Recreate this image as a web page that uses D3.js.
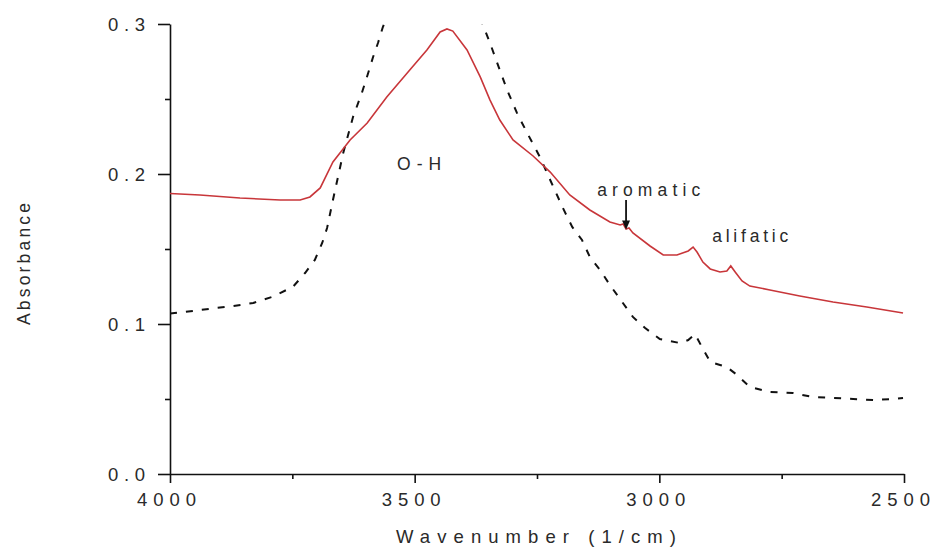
<!DOCTYPE html>
<html><head><meta charset="utf-8">
<script src="https://cdn.jsdelivr.net/npm/d3@7"></script>
<style>
html,body{margin:0;padding:0;background:#fff;}
svg text{font-family:"Liberation Sans",Arial,sans-serif;fill:#2a2a2a;}
</style></head>
<body><svg id="c" width="935" height="551"></svg>
<script>
// Red (solid) spectrum: [wavenumber, absorbance]
const redWn  = [4000,3939,3857,3775,3734,3714,3693,3667,3632,3597,3557,3510,3475,3448,3434,3422,3393,3366,3346,3326,3299,3258,3223,3183,3142,3101,3080,3074,3068,3062,3054,3019,2992,2964,2941,2931,2923,2911,2896,2876,2862,2854,2845,2831,2815,2774,2713,2645,2576,2502];
const redAbs = [0.187,0.186,0.184,0.1827,0.1827,0.1847,0.1907,0.208,0.2227,0.234,0.2513,0.2693,0.2827,0.2947,0.2967,0.2953,0.2827,0.2647,0.2493,0.236,0.2227,0.212,0.2013,0.186,0.176,0.168,0.166,0.1667,0.1633,0.164,0.1607,0.152,0.146,0.146,0.1487,0.1513,0.148,0.1413,0.1367,0.1347,0.1353,0.1387,0.1347,0.1287,0.1253,0.1227,0.1187,0.1147,0.1113,0.1073];
// Black (dashed) spectrum
const blkWn  = [4000,3953,3904,3871,3830,3792,3749,3724,3704,3689,3679,3667,3646,3626,3608,3595,3585,3575,3565,3540,3460,3380,3362,3346,3326,3311,3291,3270,3244,3223,3197,3178,3158,3142,3121,3101,3076,3054,3029,2999,2958,2941,2927,2913,2896,2876,2862,2841,2815,2774,2727,2686,2645,2604,2563,2522,2502];
const blkAbs = [0.107,0.1087,0.1107,0.112,0.114,0.118,0.1247,0.134,0.1427,0.154,0.164,0.1827,0.214,0.238,0.254,0.2673,0.278,0.2873,0.298,0.318,0.34,0.315,0.3007,0.2873,0.2693,0.256,0.2407,0.2273,0.2113,0.196,0.1773,0.1647,0.156,0.1447,0.136,0.126,0.1147,0.1047,0.0973,0.09,0.0873,0.0893,0.0933,0.0847,0.0747,0.0727,0.0713,0.066,0.058,0.0547,0.054,0.0513,0.0507,0.05,0.0493,0.05,0.0507];
const xTicks = [4000,3500,3000,2500];
const xMinor = [3750,3250,2750];
const yTicks = [0.0,0.1,0.2,0.3];
const yMinor = [0.05,0.15,0.25];
const annotations = [
  {text:"O - H", wn:3536, abs:0.2027, len:44},
  {text:"aromatic", wn:3127, abs:0.1853, len:103},
  {text:"alifatic", wn:2892, abs:0.1547, len:76}
];
const arrowAt = {wn:3068, from:0.1827, to:0.163};

const svg = d3.select("#c");
const x = d3.scaleLinear().domain([4000,2500]).range([170,904]);
const y = d3.scaleLinear().domain([0,0.3]).range([474,24]);

svg.append("defs").append("clipPath").attr("id","plot")
  .append("rect").attr("x",170).attr("y",24).attr("width",734).attr("height",450);

// axes
const gx = svg.append("g").attr("transform","translate(0,474)")
  .call(d3.axisBottom(x).tickValues(xTicks).tickSize(9).tickSizeOuter(0).tickFormat(d3.format("d")));
const gxm = svg.append("g").attr("transform","translate(0,474)")
  .call(d3.axisBottom(x).tickValues(xMinor).tickSize(5).tickFormat(""));
const gy = svg.append("g").attr("transform","translate(170,0)")
  .call(d3.axisLeft(y).tickValues(yTicks).tickSize(12).tickSizeOuter(0).tickFormat(d3.format(".1f")));
const gym = svg.append("g").attr("transform","translate(170,0)")
  .call(d3.axisLeft(y).tickValues(yMinor).tickSize(5).tickFormat(""));
gxm.select(".domain").remove(); gym.select(".domain").remove();
svg.selectAll(".domain, .tick line").attr("stroke","#111").attr("stroke-width",1.6);
gx.selectAll(".tick text").attr("font-size",18.5).attr("dy",null).attr("y",32).attr("x",-4)
  .attr("textLength",59).attr("lengthAdjust","spacing").style("font-family","'Liberation Sans',Arial,sans-serif").attr("fill","#2a2a2a");
gy.selectAll(".tick text").attr("font-size",18.5).attr("x",-25).attr("dy","0.36em")
  .attr("textLength",37).attr("lengthAdjust","spacing").style("font-family","'Liberation Sans',Arial,sans-serif").attr("fill","#2a2a2a");

// titles
svg.append("text").attr("x",536).attr("y",543).attr("text-anchor","middle").attr("font-size",18.5)
  .attr("textLength",280).attr("lengthAdjust","spacing").text("Wavenumber (1/cm)");
svg.append("text").attr("transform","translate(30,264) rotate(-90)").attr("text-anchor","middle").attr("font-size",17.5)
  .attr("textLength",122).attr("lengthAdjust","spacing").text("Absorbance");

// lines
const line = d3.line().x(d=>x(d[0])).y(d=>y(d[1]));
const plot = svg.append("g").attr("clip-path","url(#plot)");
plot.append("path").datum(blkWn.map((w,i)=>[w,blkAbs[i]])).attr("d",line)
  .attr("fill","none").attr("stroke","#111").attr("stroke-width",2).attr("stroke-dasharray","7,9");
plot.append("path").datum(redWn.map((w,i)=>[w,redAbs[i]])).attr("d",line)
  .attr("fill","none").attr("stroke","#c8363a").attr("stroke-width",1.6);

// annotations
annotations.forEach(a=>{
  svg.append("text").attr("x",x(a.wn)).attr("y",y(a.abs)).attr("text-anchor","start").attr("font-size",17.5)
    .attr("textLength",a.len).attr("lengthAdjust","spacing").text(a.text);
});
const ax = x(arrowAt.wn), ay0 = y(arrowAt.from), ay1 = y(arrowAt.to);
svg.append("line").attr("x1",ax).attr("x2",ax).attr("y1",ay0).attr("y2",ay1-6).attr("stroke","#111").attr("stroke-width",1.8);
svg.append("path").attr("d",`M${ax-4},${ay1-9} L${ax+4},${ay1-9} L${ax},${ay1} Z`).attr("fill","#111");
</script></body></html>
